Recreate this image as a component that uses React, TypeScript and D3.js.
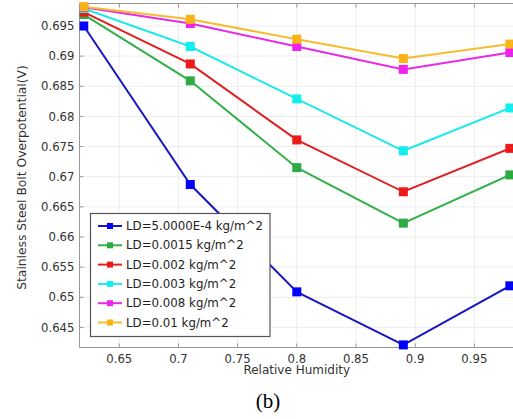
import React from "react";
import * as d3 from "d3";

const humidity = [0.62, 0.71, 0.8, 0.89, 0.98];
const seriesNames = [
  "LD=5.0000E-4 kg/m^2",
  "LD=0.0015 kg/m^2",
  "LD=0.002 kg/m^2",
  "LD=0.003 kg/m^2",
  "LD=0.008 kg/m^2",
  "LD=0.01 kg/m^2",
];
const ld00005 = [0.695, 0.6687, 0.6509, 0.6421, 0.6519];
const ld0015 = [0.6969, 0.6859, 0.6715, 0.6623, 0.6703];
const ld002 = [0.6973, 0.6887, 0.6761, 0.6675, 0.6747];
const ld003 = [0.6979, 0.6916, 0.6829, 0.6743, 0.6814];
const ld008 = [0.6981, 0.6954, 0.6916, 0.6878, 0.6906];
const ld01 = [0.6982, 0.6961, 0.6928, 0.6896, 0.692];
const seriesValues = [ld00005, ld0015, ld002, ld003, ld008, ld01];
const markerColors = ["#0000ff", "#2eaa44", "#ee1a1a", "#11eeee", "#ee22ee", "#f8b414"];
const lineColors = ["#1818c0", "#33b048", "#e02020", "#22e8e8", "#e82ae8", "#f6bc30"];
const xTicks = [0.65, 0.7, 0.75, 0.8, 0.85, 0.9, 0.95];
const yTicks = [0.645, 0.65, 0.655, 0.66, 0.665, 0.67, 0.675, 0.68, 0.685, 0.69, 0.695];

const W = 513;
const H = 419;
const L = 79.5, R = 514, T = 3.5, B = 347.5;
const font = "DejaVu Sans, sans-serif";

export default function App() {
  const x = d3.scaleLinear().domain([0.6164, 0.9835]).range([L, R]);
  const y = d3.scaleLinear().domain([0.64167, 0.69873]).range([B, T]);
  const line = d3
    .line<number>()
    .x((_, i) => x(humidity[i]))
    .y((d) => y(d));
  const ms = 9;
  const legX = 90.5, legY = 213.5, legW = 179.5, legH = 123;
  return (
    <svg width={W} height={H} style={{ position: "absolute", left: 0, top: 0 }}>
      <rect width={W} height={H} fill="#fff" />
      <defs>
        <clipPath id="plot">
          <rect x={L} y={T - 6} width={R - L + 6} height={B - T + 12} />
        </clipPath>
      </defs>
      {xTicks.map((t) => (
        <line key={"gx" + t} x1={x(t)} x2={x(t)} y1={T} y2={B} stroke="#ededed" strokeWidth={1} />
      ))}
      {yTicks.map((t) => (
        <line key={"gy" + t} x1={L} x2={R} y1={y(t)} y2={y(t)} stroke="#ededed" strokeWidth={1} />
      ))}
      <line x1={L} x2={L} y1={T} y2={B} stroke="#999" />
      <line x1={L} x2={R} y1={B} y2={B} stroke="#999" />
      <line x1={L} x2={R} y1={T} y2={T} stroke="#999" />
      {xTicks.map((t) => (
        <g key={"tx" + t}>
          <line x1={x(t)} x2={x(t)} y1={B} y2={B - 4} stroke="#999" />
          <line x1={x(t)} x2={x(t)} y1={T} y2={T + 4} stroke="#999" />
          <text x={x(t)} y={362.5} textAnchor="middle" fontFamily={font} fontSize={11.7} fill="#333">
            {String(+t.toFixed(3))}
          </text>
        </g>
      ))}
      {yTicks.map((t) => (
        <g key={"ty" + t}>
          <line x1={L} x2={L + 4} y1={y(t)} y2={y(t)} stroke="#999" />
          <text x={74.5} y={y(t)} dy="0.35em" textAnchor="end" fontFamily={font} fontSize={11.7} fill="#333">
            {String(+t.toFixed(3))}
          </text>
        </g>
      ))}
      <g clipPath="url(#plot)">
        {seriesValues.map((vals, si) => (
          <g key={"s" + si}>
            <path d={line(vals) || ""} fill="none" stroke={lineColors[si]} strokeWidth={2} />
            {vals.map((v, i) => (
              <rect
                key={i}
                x={x(humidity[i]) - ms / 2}
                y={y(v) - ms / 2}
                width={ms}
                height={ms}
                fill={markerColors[si]}
              />
            ))}
          </g>
        ))}
      </g>
      <text x={(L + R) / 2} y={373.5} textAnchor="middle" fontFamily={font} fontSize={12} fill="#333">
        Relative Humidity
      </text>
      <text
        transform={`translate(21.5,177.5) rotate(-90)`}
        textAnchor="middle"
        dy="0.35em"
        fontFamily={font}
        fontSize={12.3}
        fill="#333"
      >
        Stainless Steel Bolt Overpotential(V)
      </text>
      <rect x={legX} y={legY} width={legW} height={legH} fill="#fff" stroke="#555" strokeWidth={1.2} />
      {seriesNames.map((n, i) => {
        const cy = 226 + i * 19.3;
        return (
          <g key={"l" + i}>
            <line x1={98} x2={122} y1={cy} y2={cy} stroke={lineColors[i]} strokeWidth={2} />
            <rect x={110 - 3} y={cy - 3} width={6} height={6} fill={markerColors[i]} />
            <text x={126} y={cy} dy="0.35em" fontFamily={font} fontSize={11.8} fill="#222">
              {n}
            </text>
          </g>
        );
      })}
      <text x={268} y={408} textAnchor="middle" fontFamily="Liberation Serif, Times New Roman, serif" fontSize={21} fill="#000">
        (b)
      </text>
    </svg>
  );
}
